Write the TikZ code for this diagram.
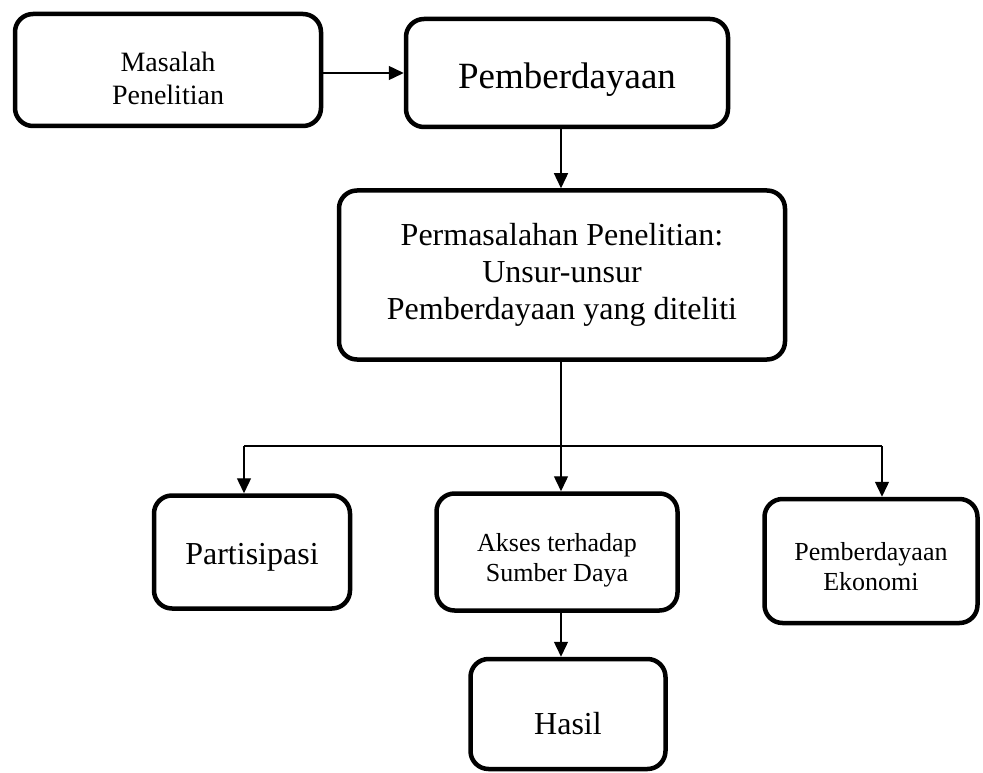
\documentclass[tikz,border=0pt]{standalone}
\usepackage{fontspec}
\setmainfont{Liberation Serif}
\usepackage{tikz}
\usetikzlibrary{arrows.meta, shapes}

\newcommand{\fsz}[2]{\fontsize{#1}{#2}\selectfont}
\newcommand{\turun}[1]{\rule{0pt}{#1em}}

\begin{document}
\begin{tikzpicture}[
    x=1pt, y=-1pt,
    alurbox/.style={shape=rectangle, draw=black, line width=4.5pt, rounded corners=18pt, align=center, inner sep=0pt},
    alurpanah/.style={line width=1.4pt, -{Triangle[length=15pt, width=14pt]}},
    alurgaris/.style={line width=1.4pt},
]
\useasboundingbox (0,0) rectangle (983,773);

\node[alurbox, minimum width=306pt, minimum height=112pt, font=\fsz{28}{33}] (msl) at (168,70) {\turun{1.33}Masalah\\Penelitian};
\node[alurbox, minimum width=322pt, minimum height=108pt, font=\fsz{37}{42}] (pbd) at (567,73) {\turun{1.06}Pemberdayaan};
\node[alurbox, minimum width=446pt, minimum height=169pt, font=\fsz{32}{37}] (pms) at (562,275) {Permasalahan Penelitian:\\Unsur-unsur\\Pemberdayaan yang diteliti};
\node[alurbox, minimum width=196pt, minimum height=113pt, font=\fsz{32}{37}] (prt) at (252,552) {\turun{1.0}Partisipasi};
\node[alurbox, minimum width=241pt, minimum height=117pt, font=\fsz{26}{30}] (aks) at (557,552) {\turun{1.3}Akses terhadap\\Sumber Daya};
\node[alurbox, minimum width=213pt, minimum height=124pt, font=\fsz{26}{30}] (eko) at (871,561) {\turun{1.15}Pemberdayaan\\Ekonomi};
\node[alurbox, minimum width=195pt, minimum height=110pt, font=\fsz{32}{37}] (hsl) at (568,714) {\turun{1.31}Hasil};

\coordinate (jl) at (244,446);
\coordinate (jm) at (561,446);
\coordinate (jr) at (882,446);

\draw[alurpanah] (pbd.west -| msl.east) -- (pbd.west);
\draw[alurpanah] (jm |- pbd.south) -- (jm |- pms.north);
\draw[alurgaris] (jm |- pms.south) -- (jm);
\draw[alurgaris] (jl) -- (jr);
\draw[alurpanah] (jl) -- (jl |- prt.north);
\draw[alurpanah] (jm) -- (jm |- aks.north);
\draw[alurpanah] (jr) -- (jr |- eko.north);
\draw[alurpanah] (jm |- aks.south) -- (jm |- hsl.north);
\end{tikzpicture}
\end{document}
